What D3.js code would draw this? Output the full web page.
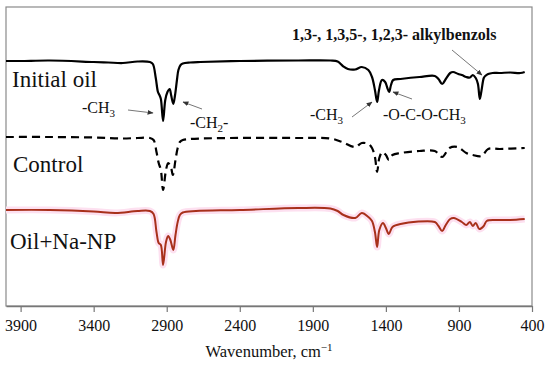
<!DOCTYPE html>
<html>
<head>
<meta charset="utf-8">
<script src="https://cdn.jsdelivr.net/npm/d3@7"></script>
<style>
  body { margin: 0; background: #fff; }
  svg { display: block; }
  text { font-family: "Liberation Serif", "Times New Roman", serif; fill: #111; }
</style>
</head>
<body>
<svg id="chart" width="550" height="367"></svg>
<script>
'use strict'

// wavenumber ticks
var tickValues = [3900, 3400, 2900, 2400, 1900, 1400, 900, 400];

// Initial oil (solid black), offset intensity in arbitrary units
var oilWn = [4000, 3900, 3700, 3400, 3300, 3200, 3100, 3015, 2995, 2975, 2960, 2950, 2940, 2925, 2910, 2895, 2880, 2870, 2855, 2843, 2830, 2820, 2805, 2790, 2740, 2670, 2400, 2000, 1780, 1730, 1695, 1660, 1610, 1565, 1520, 1495, 1475, 1460, 1447, 1427, 1405, 1390, 1378, 1365, 1350, 1300, 1170, 1065, 1040, 1015, 990, 960, 940, 905, 880, 850, 825, 805, 785, 770, 757, 745, 730, 720, 700, 670, 620, 550, 480, 450];
var oilVal = [245, 245, 245.5, 244, 243.5, 243, 244.5, 244, 242, 228, 214, 211, 207, 185, 206, 214, 217, 211, 202, 211, 226, 236, 241, 242.5, 243.5, 244, 245, 245.5, 245.5, 244.5, 240, 237, 236.5, 239, 236, 229, 216, 204, 216, 226, 224, 218, 214, 221, 226, 227, 229, 230, 227, 222, 227, 233, 234, 232, 231, 229, 228.5, 231, 228, 222, 207, 216, 228, 230, 232, 233, 233, 233.5, 233, 234];

// Control (dashed black)
var ctrlWn = [4000, 3700, 3400, 3200, 3100, 3015, 2990, 2970, 2955, 2940, 2925, 2905, 2890, 2870, 2858, 2840, 2825, 2810, 2790, 2740, 2470, 2000, 1780, 1700, 1610, 1565, 1520, 1495, 1475, 1460, 1445, 1425, 1400, 1380, 1355, 1300, 1170, 1065, 1015, 965, 910, 850, 805, 745, 700, 620, 450];
var ctrlVal = [169, 169, 168.5, 167.5, 168, 168, 166, 154, 143, 136, 116, 136, 143, 138, 131, 146, 158, 164, 166, 167, 168, 168, 167.5, 164, 159, 163, 162, 158, 149, 134, 148, 154, 151, 146, 151, 153, 155, 155, 149, 158, 159, 153, 151, 150, 157, 157, 158];

// Oil + Na-NP (red)
var npWn = [4000, 3700, 3400, 3250, 3100, 3015, 2990, 2970, 2955, 2940, 2925, 2905, 2890, 2875, 2855, 2840, 2825, 2810, 2790, 2700, 2400, 2000, 1780, 1730, 1690, 1610, 1565, 1520, 1495, 1475, 1460, 1445, 1420, 1400, 1380, 1355, 1300, 1065, 1040, 1015, 990, 960, 935, 880, 850, 825, 805, 785, 760, 730, 710, 650, 550, 450];
var npVal = [96, 96, 94.5, 93, 95, 95, 92, 74, 63, 61, 41, 64, 70, 66, 56, 71, 84, 91, 93.5, 95, 96, 98, 97.5, 95, 91, 88, 93, 89, 85, 74, 59, 76, 83, 78, 72, 79, 82, 84, 80, 75, 81, 87, 88, 84, 81, 84, 80, 83, 77, 80, 85, 86, 86, 87];

var seriesLabels = ["Initial oil", "Control", "Oil+Na-NP"];

var svg = d3.select("#chart");

var x = d3.scaleLinear().domain([4000, 400]).range([6, 532]);
var y = d3.scaleLinear().domain([0, 300]).range([306, 6]);

function zip(wn, vals){
    return wn.map(function(w, i){ return [w, vals[i]]; });
}

var line = d3.line()
    .x(function(d){ return x(d[0]); })
    .y(function(d){ return y(d[1]); })
    .curve(d3.curveCatmullRom.alpha(0.5));

// frame
svg.append("rect")
    .attr("x", 6).attr("y", 7)
    .attr("width", 526).attr("height", 299)
    .attr("fill", "none").attr("stroke", "#8a8a8a").attr("stroke-width", 1.2);

// x axis
var xAxis = svg.append("g")
    .attr("transform", "translate(0,306)")
    .call(d3.axisBottom(x).tickValues(tickValues).tickSize(6).tickSizeOuter(0).tickFormat(d3.format("d")));
xAxis.select(".domain").attr("stroke", "#777").attr("stroke-width", 1.4);
xAxis.selectAll(".tick line").attr("stroke", "#777").attr("stroke-width", 1.2);
xAxis.selectAll(".tick text")
    .attr("y", 14)
    .style("font-family", '"Liberation Serif", serif')
    .style("font-size", "16px")
    .attr("fill", "#111");

var title = svg.append("text")
    .attr("x", 269).attr("y", 357)
    .attr("text-anchor", "middle")
    .style("font-size", "16.5px");
title.append("tspan").text("Wavenumber, cm");
title.append("tspan").attr("dy", -6).style("font-size", "11px").text("\u22121");

// spectra
var npData = zip(npWn, npVal);
svg.append("path").datum(npData)
    .attr("d", line).attr("fill", "none")
    .attr("stroke", "#fde0f0").attr("stroke-width", 7).attr("stroke-linejoin", "round");
svg.append("path").datum(npData)
    .attr("d", line).attr("fill", "none")
    .attr("stroke", "#a8301b").attr("stroke-width", 2);

svg.append("path").datum(zip(ctrlWn, ctrlVal))
    .attr("d", line).attr("fill", "none")
    .attr("stroke", "#000").attr("stroke-width", 2.2)
    .attr("stroke-dasharray", "8,5");

svg.append("path").datum(zip(oilWn, oilVal))
    .attr("d", line).attr("fill", "none")
    .attr("stroke", "#000").attr("stroke-width", 2.2);

// series labels
var labelPos = [[12, 87], [13, 172], [10, 249]];
svg.selectAll(".serieslabel").data(seriesLabels).enter()
    .append("text").attr("class", "serieslabel")
    .attr("x", function(d, i){ return labelPos[i][0]; })
    .attr("y", function(d, i){ return labelPos[i][1]; })
    .style("font-size", "23px")
    .text(function(d){ return d; });

// arrows
svg.append("defs").append("marker")
    .attr("id", "head").attr("viewBox", "0 0 10 10")
    .attr("refX", 9).attr("refY", 5)
    .attr("markerWidth", 6).attr("markerHeight", 6)
    .attr("orient", "auto")
    .append("path").attr("d", "M0,1 L10,5 L0,9 Z").attr("fill", "#333");

var arrows = [
    [128, 110, 153, 113],
    [202, 109, 183, 102],
    [352, 117, 372, 102],
    [412, 99, 393, 92],
    [452, 50, 482, 75]
];
svg.selectAll(".arrow").data(arrows).enter()
    .append("line").attr("class", "arrow")
    .attr("x1", function(d){ return d[0]; }).attr("y1", function(d){ return d[1]; })
    .attr("x2", function(d){ return d[2]; }).attr("y2", function(d){ return d[3]; })
    .attr("stroke", "#777").attr("stroke-width", 1)
    .attr("marker-end", "url(#head)");

// annotations
function chem(xp, yp, parts){
    var t = svg.append("text").attr("x", xp).attr("y", yp).style("font-size", "16px");
    parts.forEach(function(p){
        if (p.sub) t.append("tspan").attr("dy", 4).style("font-size", "11px").text(p.s);
        else t.append("tspan").attr("dy", p.back ? -4 : 0).text(p.s);
    });
}
chem(82, 113, [{s: "-CH"}, {s: "3", sub: true}]);
chem(190, 128, [{s: "-CH"}, {s: "2", sub: true}, {s: "-", back: true}]);
chem(310, 120, [{s: "-CH"}, {s: "3", sub: true}]);
chem(383, 120, [{s: "-O-C-O-CH"}, {s: "3", sub: true}]);

svg.append("text")
    .attr("x", 292).attr("y", 40)
    .style("font-size", "16px").style("font-weight", "bold")
    .text("1,3-, 1,3,5-, 1,2,3- alkylbenzols");
</script>
</body>
</html>
